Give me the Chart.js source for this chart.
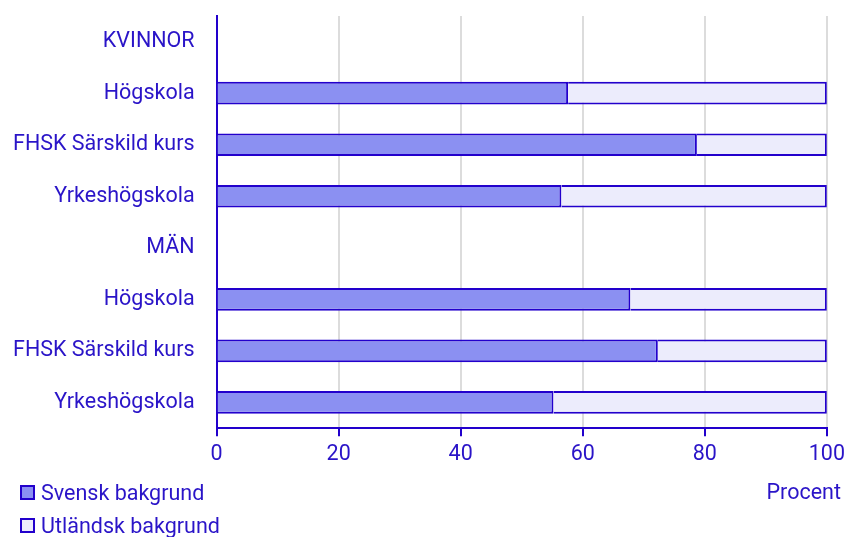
<!DOCTYPE html>
<html>
<head>
<meta charset="utf-8">
<script src="https://cdn.jsdelivr.net/npm/chart.js@4"></script>
<style>
  html, body { margin: 0; padding: 0; background: #fff; }
  #wrap { position: relative; width: 846px; height: 537px; overflow: hidden; }
  #chart { position: absolute; left: 0; top: -19px; }
  #legend { position: absolute; left: 20px; top: 476px; font: 21.5px Roboto, sans-serif; color: #2a14c8; }
  #legend div { height: 33px; line-height: 28px; display: flex; align-items: center; white-space: nowrap; }
  #legend span.box { display: inline-block; width: 15px; height: 15px; border: 2px solid #2200cc; margin-right: 6px; box-sizing: border-box; }
  #unit { position: absolute; right: 5px; top: 479px; height: 28px; line-height: 28px; font: 21.5px Roboto, sans-serif; color: #2a14c8; }
</style>
</head>
<body>
<div id="wrap">
  <canvas id="chart" width="851" height="556"></canvas>
  <div id="legend"></div>
  <div id="unit">Procent</div>
</div>
<script>
// --- Data ---
const categories = ['KVINNOR', 'Högskola', 'FHSK Särskild kurs', 'Yrkeshögskola',
                    'MÄN', 'Högskola', 'FHSK Särskild kurs', 'Yrkeshögskola'];
const svensk = [null, 57.6, 78.7, 56.5, null, 67.8, 72.3, 55.2];
const utlandsk = [null, 42.4, 21.3, 43.5, null, 32.2, 27.7, 44.8];
const seriesNames = ['Svensk bakgrund', 'Utländsk bakgrund'];
const xTicks = [0, 20, 40, 60, 80, 100];

const TEXT = '#2a14c8';
const LINE = '#2200cc';
const fills = ['#8b90f2', '#ececfc'];
const FONT = { family: 'Roboto', size: 21.5 };

// --- HTML legend (two rows, bottom left) ---
const legendEl = document.getElementById('legend');
seriesNames.forEach((name, i) => {
    const row = document.createElement('div');
    row.innerHTML = `<span class="box" style="background:${fills[i]}"></span>${name}`;
    legendEl.appendChild(row);
});

const ctx = document.getElementById('chart').getContext('2d');

new Chart(ctx, {
    type: 'bar',
    data: {
        labels: categories,
        datasets: [
            { label: seriesNames[0], data: svensk, backgroundColor: fills[0], borderColor: LINE, borderWidth: 2 },
            { label: seriesNames[1], data: utlandsk, backgroundColor: fills[1], borderColor: LINE, borderWidth: 2 }
        ]
    },
    options: {
        indexAxis: 'y',
        responsive: false,
        animation: false,
        layout: { padding: { top: 0, right: 6, bottom: 63, left: -9 } },
        datasets: { bar: { categoryPercentage: 1, barPercentage: 0.44 } },
        plugins: {
            legend: { display: false },
            tooltip: { enabled: false }
        },
        scales: {
            x: {
                stacked: true,
                min: 0,
                max: 100,
                afterBuildTicks: axis => { axis.ticks = xTicks.map(v => ({ value: v })); },
                grid: { color: '#dcdcdc', lineWidth: 2, tickColor: LINE, tickLength: 8, drawTicks: true },
                border: { color: LINE, width: 2 },
                ticks: { color: TEXT, font: FONT, padding: 6, maxRotation: 0 }
            },
            y: {
                stacked: true,
                grid: { display: false, drawTicks: false },
                border: { color: LINE, width: 2 },
                ticks: { color: TEXT, font: FONT, padding: 22, autoSkip: false }
            }
        }
    }
});
</script>
</body>
</html>
